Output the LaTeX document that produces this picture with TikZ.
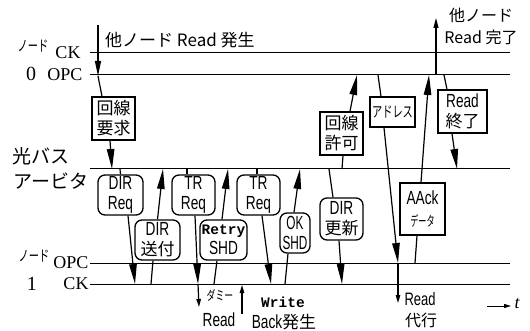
\documentclass[tikz,border=0pt]{standalone}
\usepackage{fontspec}
\usepackage{graphicx}
\setmainfont{Liberation Serif}
\setsansfont{Liberation Sans}
\newfontfamily\jp{Noto Sans CJK JP}
\newfontfamily\mn{Liberation Mono}
\usetikzlibrary{arrows.meta}
\newcommand\cz[1]{\scalebox{0.72}[1]{#1}}
\newcommand\J[1]{{\jp\fontsize{17}{20}\selectfont #1}}
\newcommand\hw[2]{{\jp\fontsize{#1}{20}\selectfont\scalebox{0.68}[1]{#2}}}
\begin{document}
\begin{tikzpicture}[x=1pt,y=-1pt,
  hl/.style={line width=1pt},
  cn/.style={line width=1.2pt},
  ar/.style={cn,-{Triangle[length=20pt,width=7.5pt]}},
  sar/.style={cn,-{Triangle[length=8pt,width=4.5pt]}},
  sqbox/.style={draw,line width=1.3pt,inner sep=0pt,align=center,
    font=\fontsize{19}{20}\selectfont\sffamily},
  rbox/.style={sqbox,rounded corners=7pt},
  lab/.style={inner sep=0pt},
  serlab/.style={lab,font=\fontsize{18}{20}\selectfont\rmfamily}
]
\useasboundingbox (0,0) rectangle (530,331);

% horizontal lines
\coordinate (ck0l) at (90,53);  \coordinate (ck0r) at (510,53);
\coordinate (op0l) at (90,75);  \coordinate (op0r) at (510,75);
\coordinate (busl) at (90,169); \coordinate (busr) at (510,169);
\coordinate (op1l) at (90,263); \coordinate (op1r) at (510,263);
\coordinate (ck1l) at (90,284); \coordinate (ck1r) at (510,284);
\draw[hl] (ck0l) -- (ck0r);
\draw[hl] (op0l) -- (op0r);
\draw[hl] (busl) -- (busr);
\draw[hl] (op1l) -- (op1r);
\draw[hl] (ck1l) -- (ck1r);

% left labels
\node[lab] (n0a) at (33,46) {\hw{15}{ノード}};
\node[serlab] (n0ck) at (68,53) {CK};
\node[lab,font=\fontsize{20}{20}\selectfont\rmfamily] (n0n) at (31,74) {0};
\node[serlab] (n0opc) at (65,75) {OPC};
\node[lab,font=\jp\fontsize{19}{20}\selectfont] (busa) at (41,156) {光バス};
\node[lab,font=\jp\fontsize{19}{20}\selectfont] (busb) at (51,181) {アービタ};
\node[lab] (n1a) at (34,256) {\hw{15}{ノード}};
\node[serlab] (n1opc) at (71,263) {OPC};
\node[lab,font=\fontsize{20}{20}\selectfont\rmfamily] (n1n) at (32,284) {1};
\node[serlab] (n1ck) at (76,284) {CK};

% top texts
\node[lab,anchor=west,font=\jp\fontsize{17}{20}\selectfont] (topt) at (105,40) {他ノード Read 発生};
\node[lab,align=center,font=\jp\fontsize{16}{22}\selectfont] (topr) at (481,26) {他ノード\\Read 完了};

% boxes
\node[sqbox,minimum width=43pt,minimum height=43pt] (k1) at (113.5,118.5) {\J{回線}\\\J{要求}};
\node[rbox,minimum width=45pt,minimum height=40pt] (dirreq) at (120.5,195) {\cz{DIR}\\\cz{Req}};
\node[rbox,minimum width=45pt,minimum height=40pt] (dirsofu) at (157.5,240) {\cz{DIR}\\\J{送付}};
\node[rbox,minimum width=43pt,minimum height=40pt] (tr1) at (193.5,195) {\cz{TR}\\\cz{Req}};
\node[rbox,minimum width=47pt,minimum height=40pt] (retry) at (223.5,240) {{\mn\bfseries\fontsize{14.5}{20}\selectfont Retry}\\\cz{SHD}};
\node[rbox,minimum width=43pt,minimum height=40pt] (tr2) at (258.5,195) {\cz{TR}\\\cz{Req}};
\node[rbox,minimum width=30pt,minimum height=40pt] (okshd) at (295,233) {\scalebox{0.62}[1]{OK}\\\scalebox{0.62}[1]{SHD}};
\node[rbox,minimum width=43pt,minimum height=42pt] (dirk) at (341.5,219) {\cz{DIR}\\\J{更新}};
\node[sqbox,minimum width=43pt,minimum height=43pt] (k2) at (341.5,133.5) {\J{回線}\\\J{許可}};
\node[sqbox,minimum width=45pt,minimum height=30pt] (addr) at (392.5,112) {\hw{15}{アドレス}};
\node[sqbox,minimum width=45pt,minimum height=52pt] (aack) at (422.5,209) {\cz{AAck}\\[2pt]{\jp\fontsize{14}{20}\selectfont\scalebox{0.58}[1]{データ}}};
\node[sqbox,minimum width=49pt,minimum height=43pt] (rend) at (462.5,111.5) {\cz{Read}\\\J{終了}};

% coordinates on lines
\coordinate (inS) at (98,25);
\coordinate (inE) at (98,76);
\coordinate (b1) at (112,169);
\coordinate (b2) at (120,169);
\coordinate (c1) at (135,284);
\coordinate (c2) at (151,284);
\coordinate (b3) at (163,169);
\coordinate (b4) at (187,169);
\coordinate (c3) at (198,284);
\coordinate (dumE) at (199,307);
\coordinate (c4) at (214,284);
\coordinate (b5) at (228,169);
\coordinate (b6) at (257,169);
\coordinate (c5) at (271,284);
\coordinate (c6) at (285,284);
\coordinate (b7) at (300,169);
\coordinate (b8) at (329,169);
\coordinate (c7) at (342,284);
\coordinate (b9) at (342,169);
\coordinate (o1) at (357,75);
\coordinate (o2) at (378,75);
\coordinate (p1) at (398,263);
\coordinate (rdE) at (398,303);
\coordinate (o3) at (429,75);
\coordinate (p2) at (415,263);
\coordinate (o4) at (444,75);
\coordinate (b10) at (457,169);
\coordinate (o5) at (436,75);
\coordinate (upE) at (436,18);
\coordinate (dS) at (242,314);
\coordinate (dE) at (242,285);
\coordinate (tS) at (487,306);
\coordinate (tE) at (511,306);

% connectors
\draw[cn,-{Triangle[length=15pt,width=6pt]}] (inS) -- (inE);
\draw[cn] (inE) -- ([xshift=-11.5pt]k1.north);
\draw[ar] ([xshift=-3.5pt]k1.south) -- (b1);
\draw[cn] (b2) -- (dirreq.north);
\draw[ar] ([xshift=7.5pt]dirreq.south) -- (c1);
\draw[cn] (c2) -- ([xshift=-4.5pt]dirsofu.south);
\draw[ar] (dirsofu.north) -- (b3);
\draw[cn] (b4) -- ([xshift=-6.5pt]tr1.north);
\draw[ar] ([xshift=1.5pt]tr1.south) -- (c3);
\draw[sar] (c3) -- (dumE);
\draw[cn] (c4) -- ([xshift=-6.5pt]retry.south);
\draw[ar] ([xshift=-1.5pt]retry.north) -- (b5);
\draw[cn] (b6) -- ([xshift=-1.5pt]tr2.north);
\draw[ar] ([xshift=3.5pt]tr2.south) -- (c5);
\draw[cn] (c6) -- ([xshift=-7pt]okshd.south);
\draw[ar] ([xshift=-1pt]okshd.north) -- (b7);
\draw[cn] (b8) -- ([xshift=-8.5pt]dirk.north);
\draw[ar] ([xshift=-2.5pt]dirk.south) -- (c7);
\draw[cn] (b9) -- ([xshift=1.5pt]k2.south);
\draw[ar] ([xshift=8.5pt]k2.north) -- (o1);
\draw[cn] (o2) -- ([xshift=-11.5pt]addr.north);
\draw[ar] ([xshift=-8.5pt]addr.south) -- (p1);
\draw[sar] (p1) -- (rdE);
\draw[ar] ([xshift=-1.5pt]aack.north) -- (o3);
\draw[cn] ([xshift=-5.5pt]aack.south) -- (p2);
\draw[cn] (o4) -- ([xshift=-15.5pt]rend.north);
\draw[ar] ([xshift=-10.5pt]rend.south) -- (b10);
\draw[cn,-{Triangle[length=10pt,width=5pt]}] (o5) -- (upE);
\draw[sar] (dS) -- (dE);
\draw[line width=1pt,-{Triangle[length=7pt,width=4pt]}] (tS) -- (tE);

% bottom texts
\node[lab] (dumt) at (220,295) {\hw{13}{ダミー}};
\node[lab,font=\fontsize{19}{20}\selectfont\sffamily] (dumr) at (219,320) {\cz{Read}};
\node[lab,font=\mn\bfseries\fontsize{14.5}{20}\selectfont] (wrt) at (283,302) {Write};
\node[lab,font=\fontsize{19}{20}\selectfont\sffamily] (back) at (284,322) {\cz{Back}\J{発生}};
\node[lab,font=\fontsize{18}{20}\selectfont\sffamily] (rdt) at (420,299) {\cz{Read}};
\node[lab] (rdt2) at (421,320) {{\jp\fontsize{16}{20}\selectfont 代行}};
\node[lab,font=\fontsize{18}{20}\selectfont\rmfamily\itshape] (tt) at (517,304) {t};
\end{tikzpicture}
\end{document}
